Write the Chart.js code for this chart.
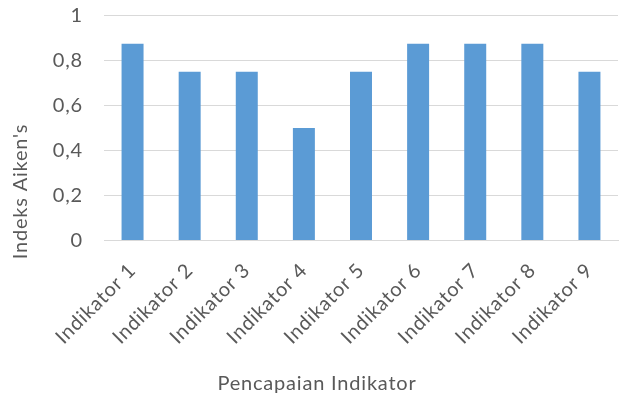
<!DOCTYPE html>
<html>
<head>
<meta charset="utf-8">
<script src="https://cdn.jsdelivr.net/npm/chart.js@4/dist/chart.umd.min.js"></script>
<style>
  html, body { margin: 0; padding: 0; background: #fff; }
  #wrap { width: 623px; height: 398px; }
</style>
</head>
<body>
<div id="wrap"><canvas id="c" width="623" height="398"></canvas></div>
<script>
// Aiken's V index per indicator
const categories = ['Indikator 1', 'Indikator 2', 'Indikator 3', 'Indikator 4', 'Indikator 5',
                    'Indikator 6', 'Indikator 7', 'Indikator 8', 'Indikator 9'];
const aikenValues = [0.875, 0.75, 0.75, 0.5, 0.75, 0.875, 0.875, 0.875, 0.75];
const yTicks = [0, 0.2, 0.4, 0.6, 0.8, 1];
const yTitle = "Indeks Aiken's";
const xTitle = 'Pencapaian Indikator';

const textColor = '#595959';
const gridColor = '#D9D9D9';
const fontFamily = 'Lato, "Open Sans", sans-serif';

// Slightly open letter spacing for all chart text
// (re-applied because resizing the canvas resets the context state)
const spacing = '0.8px';
const spacingPlugin = {
  id: 'spacing',
  beforeUpdate(chart) { chart.ctx.letterSpacing = spacing; },
  beforeLayout(chart) { chart.ctx.letterSpacing = spacing; },
  beforeDraw(chart) { chart.ctx.letterSpacing = spacing; }
};

// Axis titles: vertical one a little below the plot middle, horizontal one under the labels
const axisTitlePlugin = {
  id: 'axisTitles',
  afterDraw(chart) {
    const { ctx, chartArea } = chart;
    ctx.save();
    ctx.fillStyle = textColor;
    ctx.font = '20px ' + fontFamily;
    ctx.textAlign = 'center';
    ctx.textBaseline = 'middle';
    ctx.fillText(xTitle, 317, chartArea.bottom + 143);
    ctx.translate(21, chartArea.bottom - 49);
    ctx.rotate(-Math.PI / 2);
    ctx.fillText(yTitle, 0, 0);
    ctx.restore();
  }
};

new Chart(document.getElementById('c'), {
  type: 'bar',
  data: {
    labels: categories,
    datasets: [{
      data: aikenValues,
      backgroundColor: '#5B9BD5',
      borderWidth: 0,
      categoryPercentage: 1,
      barPercentage: 0.385
    }]
  },
  plugins: [spacingPlugin, axisTitlePlugin],
  options: {
    responsive: false,
    animation: false,
    layout: { padding: { top: 15.5, right: 5, left: 0, bottom: 0 } },
    plugins: {
      legend: { display: false },
      tooltip: { enabled: false },
      title: { display: false }
    },
    scales: {
      x: {
        grid: { display: false, drawTicks: false },
        border: { display: true, color: gridColor, width: 1 },
        ticks: {
          color: textColor,
          font: { family: fontFamily, size: 20 },
          minRotation: 45,
          maxRotation: 45,
          padding: 18
        },
        afterFit: (s) => { s.height = 157.5; s.paddingLeft = 0; s.paddingRight = 0; }
      },
      y: {
        min: 0,
        max: 1,
        afterBuildTicks: (s) => { s.ticks = yTicks.map(v => ({ value: v })); },
        grid: { color: gridColor, lineWidth: 1, drawTicks: false },
        border: { display: false },
        ticks: {
          color: textColor,
          font: { family: fontFamily, size: 20 },
          padding: 21,
          callback: (v) => Number(v.toFixed(1)).toString().replace('.', ',')
        },
        afterFit: (s) => { s.width = 104; s.paddingTop = 0; s.paddingBottom = 0; }
      }
    }
  }
});
</script>
</body>
</html>
